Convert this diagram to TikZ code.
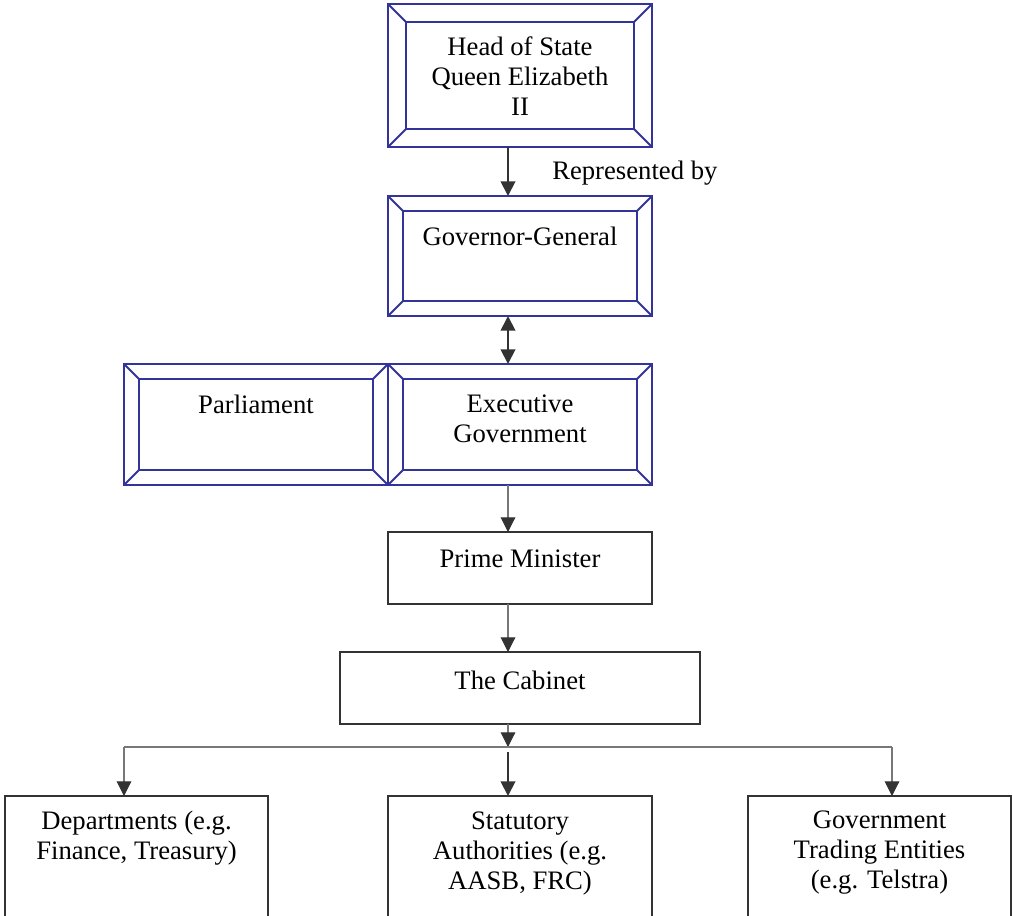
\documentclass[tikz,border=0pt]{standalone}
\usepackage{fontspec}
\setmainfont{Liberation Serif}
\usetikzlibrary{arrows.meta,calc}
\definecolor{bevblue}{RGB}{51,51,153}
\definecolor{dk}{RGB}{51,51,51}
\definecolor{gr}{RGB}{120,120,120}
\newcommand\bevelframe[2]{%
  \draw[bevline] ($(#1.north west)+(#2,#2)$) rectangle ($(#1.south east)+(-#2,-#2)$);
  \draw[bevline] (#1.north west) -- ++(#2,#2);
  \draw[bevline] (#1.north east) -- ++(-#2,#2);
  \draw[bevline] (#1.south west) -- ++(#2,-#2);
  \draw[bevline] (#1.south east) -- ++(-#2,-#2);
}
\begin{document}
\begin{tikzpicture}[x=0.75pt,y=-0.75pt,
  txt/.style={font=\fontsize{20}{22.5}\selectfont, align=center, inner sep=0pt, text=black},
  bevline/.style={draw=bevblue, line width=1.4pt, line join=miter},
  bevbox/.style={bevline, rectangle, outer sep=0pt, inner sep=0pt},
  plainbox/.style={draw=dk, line width=1.3pt, rectangle, outer sep=0pt, inner sep=0pt},
  tip/.style={-{Triangle[width=11pt,length=11pt]}},
  darkarrow/.style={tip, draw=dk, fill=dk, line width=1.4pt},
  thinarrow/.style={draw=gr, line width=0.8pt, -{Triangle[width=11pt,length=11pt,fill=dk,color=dk]}},
]
\useasboundingbox (0,0) rectangle (1013,915);
\coordinate (ax) at (508,0);

% beveled boxes
\node[bevbox, minimum width=198pt, minimum height=107.25pt] (head) at (520,75.5) {};
\node[bevbox, minimum width=198pt, minimum height=90pt] (gov) at (520,256) {};
\node[bevbox, minimum width=198pt, minimum height=90.75pt] (parl) at (256,424.5) {};
\node[bevbox, minimum width=198pt, minimum height=90.75pt] (exec) at (520,424.5) {};
\bevelframe{head}{18}
\bevelframe{gov}{15}
\bevelframe{parl}{15}
\bevelframe{exec}{15}

% plain boxes
\node[plainbox, minimum width=198pt, minimum height=54pt] (pm) at (520,568) {};
\node[plainbox, minimum width=270pt, minimum height=54pt] (cab) at (520,688) {};
\node[plainbox, minimum width=197.25pt, minimum height=104.25pt] (dept) at (136.5,865.5) {};
\node[plainbox, minimum width=198pt, minimum height=104.25pt] (stat) at (520,865.5) {};
\node[plainbox, minimum width=197.25pt, minimum height=104.25pt] (gte) at (879.5,865.5) {};

% texts
\node[txt] (theadtxt) at (520,76) {Head of State\\Queen Elizabeth\\II};
\node[txt] (tgov) at (520,236) {Governor-General};
\node[txt] (tparl) at (256,404) {Parliament};
\node[txt] (texec) at (520,419) {Executive\\Government};
\node[txt] (tpm) at (520,559) {Prime Minister};
\node[txt] (tcab) at (520,680) {The Cabinet};
\node[txt] (tdept) at (136.5,838) {Departments (e.g.\\Finance, Treasury)};
\node[txt] (tstat) at (520,853) {Statutory\\Authorities (e.g.\\AASB, FRC)};
\node[txt] (tgte) at (879.5,853) {Government\\Trading Entities\\(e.g. Telstra)};
\node[txt, anchor=west] (trep) at (552,173) {Represented by};

% connectors
\draw[darkarrow] (head.south -| ax) -- (gov.north -| ax);
\draw[draw=dk, fill=dk, line width=1.4pt, {Triangle[width=11pt,length=11pt]}-{Triangle[width=11pt,length=11pt]}] (gov.south -| ax) -- (exec.north -| ax);
\draw[thinarrow] (exec.south -| ax) -- (pm.north -| ax);
\draw[thinarrow] (pm.south -| ax) -- (cab.north -| ax);
\coordinate (bus) at (508,747);
\coordinate (busL) at (124,747);
\coordinate (busR) at (892,747);
\draw[thinarrow] (cab.south -| ax) -- (bus);
\draw[draw=gr, line width=0.8pt] (busL) -- (busR);
\draw[thinarrow] (busL) -- (dept.north -| busL);
\draw[thinarrow] (busR) -- (gte.north -| busR);
\draw[darkarrow] ($(bus)+(0,5)$) -- (stat.north -| ax);
\end{tikzpicture}
\end{document}
